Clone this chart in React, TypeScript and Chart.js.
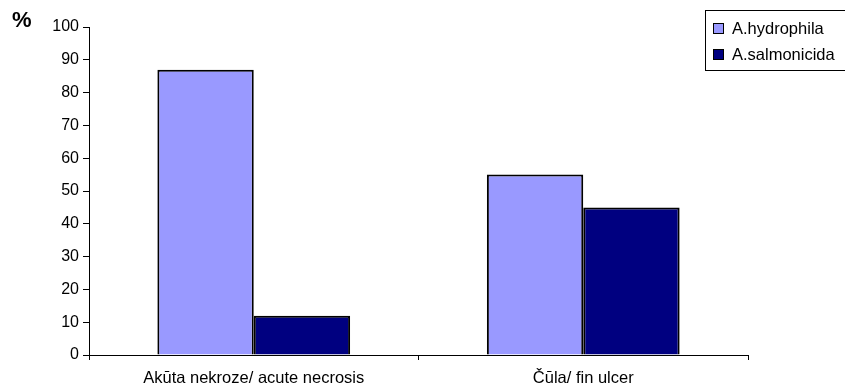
import React, { useEffect, useRef } from "react";
import { Chart, registerables } from "chart.js";

Chart.register(...registerables);

const categories = ["Akūta nekroze/ acute necrosis", "Čūla/ fin ulcer"];
const seriesNames = ["A.hydrophila", "A.salmonicida"];
const hydrophilaValues = [87, 55];
const salmonicidaValues = [12, 45];
const seriesColors = ["#9999FF", "#000080"];
const yTicks = [0, 10, 20, 30, 40, 50, 60, 70, 80, 90, 100];

export default function App() {
  const ref = useRef<HTMLCanvasElement | null>(null);
  useEffect(() => {
    document.body.style.margin = "0";
    const ctx = ref.current!;
    const chart = new Chart(ctx, {
      type: "bar",
      data: {
        labels: categories,
        datasets: [
          {
            label: seriesNames[0],
            data: hydrophilaValues,
            backgroundColor: seriesColors[0],
            borderColor: "#000",
            borderWidth: 2,
          },
          {
            label: seriesNames[1],
            data: salmonicidaValues,
            backgroundColor: seriesColors[1],
            borderColor: "#000",
            borderWidth: 2,
          },
        ],
      },
      options: {
        animation: false,
        responsive: false,
        devicePixelRatio: 1,
        layout: { padding: { left: 0, right: 97, top: 27, bottom: 0 } },
        plugins: { legend: { display: false }, tooltip: { enabled: false } },
        datasets: { bar: { barPercentage: 1, categoryPercentage: 0.585 } },
        scales: {
          x: {
            grid: {
              offset: true,
              drawOnChartArea: false,
              drawTicks: true,
              tickLength: 5,
              color: "#000",
            },
            border: { color: "#000", width: 1 },
            ticks: {
              color: "#000",
              padding: 9,
              maxRotation: 0,
              font: { family: "Liberation Sans, Arial", size: 16.5 },
            },
            afterFit: (s: any) => {
              s.height = 390 - 355;
            },
          },
          y: {
            min: 0,
            max: 100,
            afterBuildTicks: (s: any) => {
              s.ticks = yTicks.map((v) => ({ value: v }));
            },
            grid: {
              drawOnChartArea: false,
              drawTicks: true,
              tickLength: 6,
              color: "#000",
            },
            border: { color: "#000", width: 1 },
            ticks: {
              color: "#000",
              padding: 4,
              font: { family: "Liberation Sans, Arial", size: 16 },
            },
            afterFit: (s: any) => {
              s.width = 89;
            },
          },
        },
      },
    });
    return () => chart.destroy();
  }, []);

  const font = "Liberation Sans, Arial, sans-serif";
  return (
    <div style={{ position: "fixed", left: 0, top: 0, width: 845, height: 390, background: "#fff" }}>
      <canvas ref={ref} width={845} height={390} style={{ width: 845, height: 390 }} />
      <div
        style={{
          position: "absolute",
          left: 12,
          top: 9,
          fontFamily: font,
          fontWeight: "bold",
          fontSize: 22,
          color: "#000",
          lineHeight: "22px",
        }}
      >
        %
      </div>
      <div
        style={{
          position: "absolute",
          left: 705,
          top: 10,
          width: 150,
          height: 61,
          border: "1px solid #000",
          boxSizing: "border-box",
          fontFamily: font,
          fontSize: 16.5,
          color: "#000",
        }}
      >
        {seriesNames.map((n, i) => (
          <div
            key={n}
            style={{
              position: "absolute",
              left: 7,
              top: 7 + i * 26,
              height: 20,
              display: "flex",
              alignItems: "center",
              whiteSpace: "nowrap",
            }}
          >
            <span
              style={{
                display: "inline-block",
                width: 9,
                height: 9,
                background: seriesColors[i],
                border: "1.5px solid #000",
                marginRight: 8,
              }}
            />
            {n}
          </div>
        ))}
      </div>
    </div>
  );
}
